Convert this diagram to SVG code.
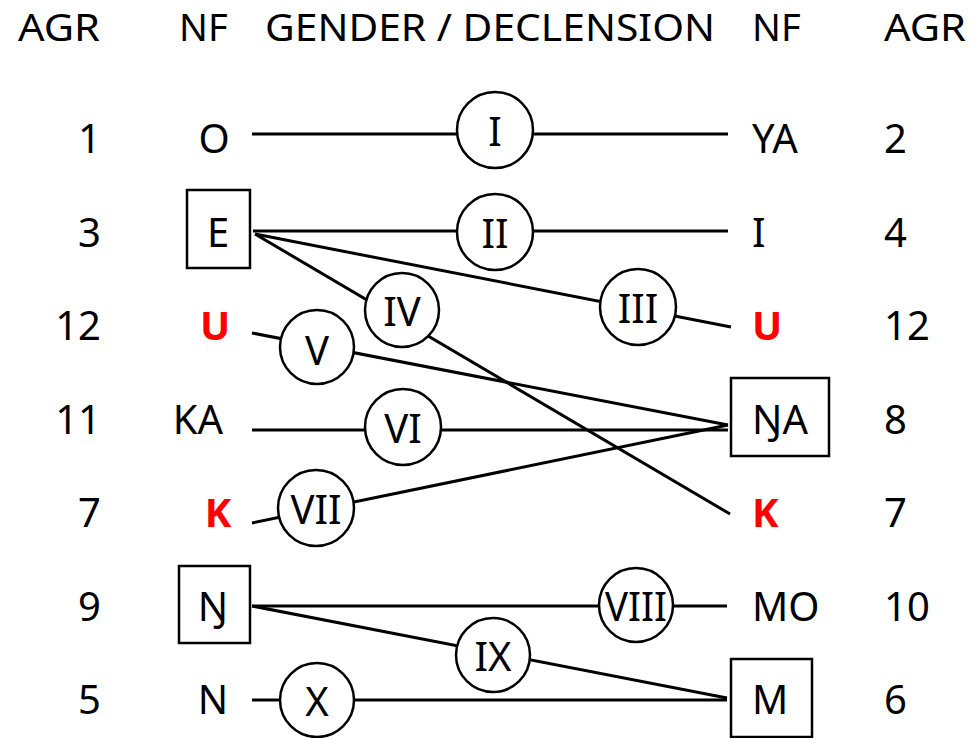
<svg xmlns="http://www.w3.org/2000/svg" width="974" height="738" viewBox="0 0 974 738">
<style>
text{font-family:"Noto Sans","Open Sans","Liberation Sans",sans-serif;font-size:40px;fill:#000}
.hd{font-size:38px}
.r{text-anchor:end}
.m{text-anchor:middle}
.red{fill:#FF0000;font-weight:bold}
.ln{stroke:#000;stroke-width:3;fill:none;stroke-linecap:butt}
.c{fill:#fff;stroke:#000;stroke-width:2.5}
.b{fill:#fff;stroke:#000;stroke-width:2.5}
.ct{text-anchor:middle;dominant-baseline:central}
</style>
<rect width="974" height="738" fill="#fff"/>
<g id="header">
<text class="hd" x="18" y="41" textLength="82" lengthAdjust="spacingAndGlyphs">AGR</text>
<text class="hd" x="179" y="41">NF</text>
<text class="hd" x="265" y="41" textLength="450" lengthAdjust="spacingAndGlyphs">GENDER / DECLENSION</text>
<text class="hd" x="752" y="41">NF</text>
<text class="hd" x="884" y="41" textLength="82" lengthAdjust="spacingAndGlyphs">AGR</text>
</g>
<g id="agr-left">
<text class="r" x="101" y="153">1</text>
<text class="r" x="101" y="247">3</text>
<text class="r" x="101" y="340">12</text>
<text class="r" x="101" y="434">11</text>
<text class="r" x="101" y="527">7</text>
<text class="r" x="101" y="621">9</text>
<text class="r" x="101" y="714">5</text>
</g>
<g id="agr-right">
<text x="884" y="153">2</text>
<text x="884" y="247">4</text>
<text x="884" y="340">12</text>
<text x="884" y="434">8</text>
<text x="884" y="527">7</text>
<text x="884" y="621">10</text>
<text x="884" y="714">6</text>
</g>
<g id="connectors">
<line class="ln" x1="252" y1="134" x2="728" y2="134"/>
<line class="ln" x1="253" y1="231" x2="728" y2="231"/>
<line class="ln" x1="255" y1="234" x2="731" y2="327"/>
<line class="ln" x1="255" y1="234" x2="730" y2="514"/>
<line class="ln" x1="252" y1="333" x2="728" y2="425"/>
<line class="ln" x1="252" y1="430" x2="728" y2="430"/>
<line class="ln" x1="252" y1="523" x2="728" y2="425"/>
<line class="ln" x1="252" y1="606" x2="727" y2="606"/>
<line class="ln" x1="252" y1="606" x2="727" y2="698"/>
<line class="ln" x1="252" y1="700" x2="727" y2="700"/>
</g>
<g id="nf-left">
<g id="nf-O"><text class="m" x="214" y="153">O</text></g>
<g id="nf-E"><rect class="b" x="187" y="190" width="63" height="78"/><text class="m" x="218" y="247">E</text></g>
<g id="nf-U-left"><text class="m red" x="215" y="340">U</text></g>
<g id="nf-KA"><text class="m" x="198" y="434">KA</text></g>
<g id="nf-K-left"><text class="m red" x="218" y="527">K</text></g>
<g id="nf-NG"><rect class="b" x="179" y="566" width="71" height="77"/><text class="m" x="213" y="621">Ŋ</text></g>
<g id="nf-N"><text class="m" x="213" y="714">N</text></g>
</g>
<g id="nf-right">
<g id="nf-YA"><text x="752" y="153">YA</text></g>
<g id="nf-I"><text x="752" y="247">I</text></g>
<g id="nf-U-right"><text class="red" x="752" y="340">U</text></g>
<g id="nf-NGA"><rect class="b" x="731" y="378" width="98" height="78"/><text x="752" y="434">ŊA</text></g>
<g id="nf-K-right"><text class="red" x="752" y="527">K</text></g>
<g id="nf-MO"><text x="752" y="621">MO</text></g>
<g id="nf-M"><rect class="b" x="731" y="659" width="81" height="78"/><text x="752" y="714">M</text></g>
</g>
<g id="genders">
<g id="g-I"><circle class="c" cx="495" cy="130" r="38"/><text class="ct" x="495" y="130">I</text></g>
<g id="g-II"><circle class="c" cx="495" cy="232" r="38"/><text class="ct" x="495" y="232">II</text></g>
<g id="g-III"><circle class="c" cx="638" cy="307" r="38"/><text class="ct" x="638" y="307">III</text></g>
<g id="g-IV"><circle class="c" cx="402" cy="310" r="37"/><text class="ct" x="402" y="310">IV</text></g>
<g id="g-V"><circle class="c" cx="317" cy="347" r="37"/><text class="ct" x="317" y="349">V</text></g>
<g id="g-VI"><circle class="c" cx="403" cy="427" r="38"/><text class="ct" x="403" y="427">VI</text></g>
<g id="g-VII"><circle class="c" cx="316" cy="508" r="38"/><text class="ct" x="316" y="508">VII</text></g>
<g id="g-VIII"><circle class="c" cx="636" cy="605" r="37"/><text class="ct" x="636" y="605" textLength="62" lengthAdjust="spacingAndGlyphs">VIII</text></g>
<g id="g-IX"><circle class="c" cx="493" cy="655" r="37"/><text class="ct" x="493" y="655">IX</text></g>
<g id="g-X"><circle class="c" cx="317" cy="700" r="37"/><text class="ct" x="317" y="700">X</text></g>
</g>
</svg>
